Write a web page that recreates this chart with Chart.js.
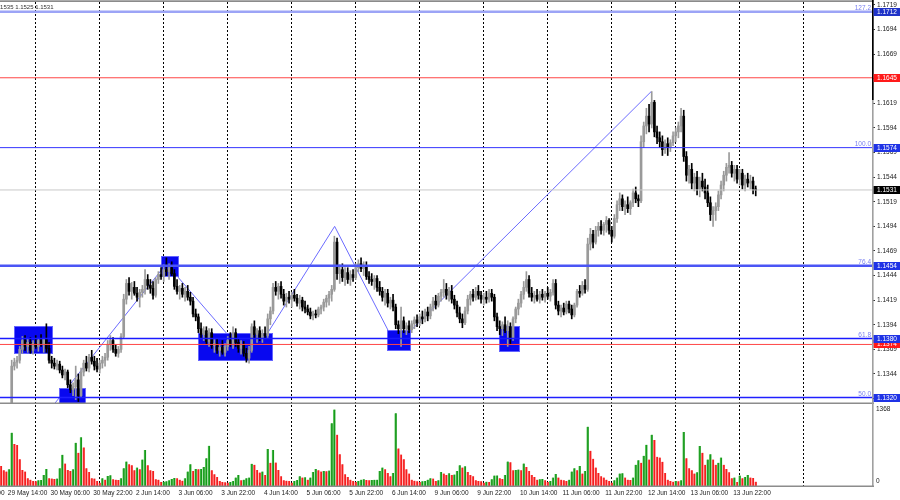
<!DOCTYPE html>
<html><head><meta charset="utf-8">
<script src="https://cdn.jsdelivr.net/npm/chart.js@4.4.1/dist/chart.umd.min.js"></script>
<style>
html,body{margin:0;padding:0;background:#fff;}
#wrap{position:relative;width:900px;height:500px;overflow:hidden;background:#fff;}
canvas{position:absolute;left:0;}
#price{top:0;} #vol{top:404px;}
</style></head><body>
<div id="wrap"><canvas id="price" width="900" height="404"></canvas><canvas id="vol" width="900" height="96"></canvas></div>
<script>
// ---------- DATA (EURUSD H1, bar index 0 = 30 May 01:00, 24 bars per trading day) ----------
const firstBar = -13;
const opens = [
1.1296,1.1292,1.1290,1.1293,1.1288,1.1352,1.1356,1.1358,1.1369,1.1378,
1.1372,1.1376,1.1368,1.1375,1.1372,1.1378,1.1374,1.1379,1.1370,1.1358,
1.1355,1.1352,1.1354,1.1348,1.1343,1.1346,1.1333,1.1328,1.1331,1.1338,
1.1322,1.1346,1.1355,1.1350,1.1361,1.1357,1.1352,1.1349,1.1355,1.1358,
1.1361,1.1374,1.1378,1.1369,1.1365,1.1369,1.1382,1.1420,1.1436,1.1428,
1.1432,1.1426,1.1422,1.1427,1.1430,1.1440,1.1434,1.1431,1.1424,1.1440,
1.1445,1.1443,1.1450,1.1448,1.1452,1.1446,1.1433,1.1428,1.1431,1.1425,
1.1428,1.1422,1.1418,1.1405,1.1402,1.1390,1.1384,1.1388,1.1377,1.1386,
1.1373,1.1375,1.1368,1.1371,1.1366,1.1372,1.1378,1.1375,1.1386,1.1376,
1.1370,1.1374,1.1365,1.1360,1.1368,1.1392,1.1384,1.1388,1.1381,1.1385,
1.1383,1.1400,1.1408,1.1432,1.1428,1.1433,1.1425,1.1418,1.1422,1.1420,
1.1424,1.1421,1.1416,1.1419,1.1412,1.1410,1.1407,1.1403,1.1405,1.1404,
1.1410,1.1412,1.1417,1.1421,1.1425,1.1430,1.1478,1.1446,1.1450,1.1442,
1.1447,1.1440,1.1445,1.1442,1.1452,1.1456,1.1451,1.1454,1.1443,1.1440,
1.1438,1.1441,1.1432,1.1428,1.1422,1.1426,1.1416,1.1419,1.1412,1.1394,
1.1390,1.1398,1.1390,1.1393,1.1389,1.1395,1.1399,1.1396,1.1402,1.1400,
1.1407,1.1403,1.1412,1.1418,1.1414,1.1423,1.1427,1.1430,1.1424,1.1428,
1.1420,1.1414,1.1406,1.1400,1.1396,1.1408,1.1420,1.1425,1.1422,1.1428,
1.1424,1.1420,1.1422,1.1420,1.1426,1.1422,1.1402,1.1392,1.1390,1.1394,
1.1388,1.1392,1.1380,1.1400,1.1410,1.1416,1.1425,1.1432,1.1440,1.1426,
1.1422,1.1424,1.1420,1.1425,1.1422,1.1426,1.1423,1.1427,1.1436,1.1414,
1.1408,1.1411,1.1407,1.1415,1.1410,1.1404,1.1414,1.1428,1.1426,1.1434,
1.1430,1.1476,1.1486,1.1478,1.1490,1.1494,1.1490,1.1496,1.1500,1.1490,
1.1484,1.1502,1.1516,1.1522,1.1514,1.1516,1.1512,1.1518,1.1528,1.1522,
1.1520,1.1580,1.1596,1.1606,1.1598,1.1620,1.1590,1.1584,1.1580,1.1572,
1.1578,1.1574,1.1579,1.1586,1.1590,1.1596,1.1606,1.1565,1.1546,1.1552,
1.1538,1.1544,1.1532,1.1540,1.1534,1.1528,1.1518,1.1506,1.1510,1.1514,
1.1526,1.1536,1.1546,1.1554,1.1556,1.1548,1.1552,1.1542,1.1548,1.1536,
1.1542,1.1538,1.1540,1.1532];
const highs = [
1.1300,1.1298,1.1296,1.1299,1.1358,1.1360,1.1362,1.1372,1.1382,1.1383,
1.1380,1.1381,1.1378,1.1383,1.1380,1.1384,1.1380,1.1395,1.1376,1.1362,
1.1360,1.1358,1.1357,1.1352,1.1349,1.1348,1.1338,1.1335,1.1352,1.1344,
1.1350,1.1358,1.1362,1.1364,1.1368,1.1362,1.1360,1.1358,1.1362,1.1365,
1.1378,1.1383,1.1381,1.1374,1.1372,1.1385,1.1425,1.1440,1.1442,1.1437,
1.1438,1.1432,1.1430,1.1434,1.1450,1.1445,1.1440,1.1438,1.1442,1.1448,
1.1452,1.1455,1.1462,1.1456,1.1458,1.1450,1.1440,1.1434,1.1436,1.1432,
1.1434,1.1427,1.1422,1.1410,1.1405,1.1396,1.1392,1.1392,1.1390,1.1390,
1.1379,1.1380,1.1374,1.1378,1.1375,1.1382,1.1386,1.1392,1.1390,1.1380,
1.1378,1.1377,1.1370,1.1372,1.1395,1.1398,1.1390,1.1392,1.1389,1.1392,
1.1405,1.1412,1.1436,1.1438,1.1436,1.1438,1.1430,1.1426,1.1428,1.1427,
1.1430,1.1425,1.1424,1.1422,1.1418,1.1414,1.1411,1.1408,1.1409,1.1412,
1.1414,1.1420,1.1424,1.1428,1.1434,1.1484,1.1482,1.1455,1.1456,1.1452,
1.1452,1.1449,1.1450,1.1456,1.1460,1.1462,1.1458,1.1458,1.1448,1.1446,
1.1444,1.1444,1.1438,1.1432,1.1430,1.1430,1.1422,1.1425,1.1415,1.1398,
1.1412,1.1402,1.1396,1.1398,1.1398,1.1402,1.1404,1.1405,1.1408,1.1410,
1.1412,1.1415,1.1422,1.1424,1.1426,1.1430,1.1440,1.1436,1.1432,1.1434,
1.1424,1.1418,1.1412,1.1405,1.1412,1.1424,1.1428,1.1430,1.1432,1.1434,
1.1428,1.1426,1.1428,1.1430,1.1430,1.1425,1.1406,1.1398,1.1397,1.1402,
1.1398,1.1396,1.1402,1.1412,1.1420,1.1428,1.1438,1.1448,1.1444,1.1432,
1.1428,1.1430,1.1428,1.1430,1.1428,1.1432,1.1430,1.1440,1.1440,1.1418,
1.1414,1.1416,1.1418,1.1418,1.1414,1.1416,1.1430,1.1434,1.1438,1.1440,
1.1482,1.1492,1.1490,1.1494,1.1498,1.1500,1.1498,1.1504,1.1502,1.1494,
1.1506,1.1520,1.1528,1.1526,1.1520,1.1524,1.1520,1.1532,1.1534,1.1526,
1.1586,1.1600,1.1614,1.1618,1.1631,1.1622,1.1596,1.1590,1.1586,1.1582,
1.1584,1.1582,1.1590,1.1594,1.1600,1.1614,1.1612,1.1570,1.1556,1.1558,
1.1548,1.1550,1.1544,1.1548,1.1542,1.1536,1.1524,1.1514,1.1518,1.1530,
1.1540,1.1550,1.1558,1.1569,1.1560,1.1556,1.1556,1.1552,1.1552,1.1546,
1.1548,1.1546,1.1544,1.1535];
const lows = [
1.1288,1.1287,1.1286,1.1289,1.1285,1.1348,1.1350,1.1355,1.1365,1.1368,
1.1366,1.1365,1.1364,1.1370,1.1367,1.1372,1.1366,1.1366,1.1355,1.1350,
1.1349,1.1348,1.1345,1.1340,1.1338,1.1330,1.1325,1.1322,1.1318,1.1316,
1.1320,1.1342,1.1347,1.1346,1.1354,1.1348,1.1346,1.1345,1.1350,1.1352,
1.1358,1.1368,1.1366,1.1362,1.1361,1.1366,1.1380,1.1415,1.1424,1.1420,
1.1424,1.1418,1.1412,1.1422,1.1425,1.1430,1.1426,1.1420,1.1422,1.1436,
1.1440,1.1438,1.1444,1.1440,1.1444,1.1430,1.1425,1.1420,1.1422,1.1418,
1.1419,1.1414,1.1402,1.1398,1.1386,1.1380,1.1378,1.1374,1.1372,1.1370,
1.1366,1.1365,1.1362,1.1364,1.1362,1.1368,1.1372,1.1370,1.1372,1.1366,
1.1364,1.1362,1.1356,1.1355,1.1366,1.1380,1.1376,1.1378,1.1376,1.1380,
1.1380,1.1394,1.1405,1.1424,1.1420,1.1421,1.1414,1.1412,1.1416,1.1412,
1.1418,1.1413,1.1410,1.1408,1.1406,1.1404,1.1400,1.1399,1.1401,1.1402,
1.1405,1.1408,1.1412,1.1414,1.1418,1.1428,1.1440,1.1436,1.1438,1.1434,
1.1436,1.1434,1.1438,1.1440,1.1448,1.1448,1.1444,1.1440,1.1436,1.1434,
1.1430,1.1428,1.1424,1.1418,1.1414,1.1412,1.1410,1.1408,1.1390,1.1385,
1.1372,1.1386,1.1384,1.1386,1.1386,1.1390,1.1392,1.1393,1.1395,1.1397,
1.1398,1.1400,1.1408,1.1410,1.1412,1.1418,1.1422,1.1420,1.1418,1.1416,
1.1410,1.1402,1.1396,1.1391,1.1394,1.1405,1.1414,1.1418,1.1419,1.1420,
1.1416,1.1414,1.1416,1.1417,1.1418,1.1398,1.1388,1.1384,1.1383,1.1386,
1.1372,1.1374,1.1378,1.1396,1.1404,1.1412,1.1420,1.1428,1.1422,1.1418,
1.1416,1.1418,1.1416,1.1419,1.1417,1.1420,1.1418,1.1424,1.1410,1.1404,
1.1402,1.1404,1.1405,1.1406,1.1400,1.1402,1.1412,1.1422,1.1424,1.1426,
1.1428,1.1470,1.1472,1.1476,1.1484,1.1486,1.1485,1.1488,1.1486,1.1478,
1.1482,1.1498,1.1510,1.1510,1.1506,1.1508,1.1506,1.1514,1.1518,1.1514,
1.1518,1.1574,1.1588,1.1590,1.1594,1.1585,1.1578,1.1574,1.1566,1.1568,
1.1566,1.1570,1.1576,1.1580,1.1584,1.1590,1.1560,1.1540,1.1538,1.1532,
1.1530,1.1526,1.1524,1.1530,1.1522,1.1514,1.1500,1.1494,1.1500,1.1510,
1.1522,1.1530,1.1540,1.1548,1.1544,1.1540,1.1538,1.1536,1.1532,1.1530,
1.1534,1.1532,1.1527,1.1525];
const closes = [
1.1292,1.1290,1.1293,1.1288,1.1352,1.1356,1.1358,1.1369,1.1378,1.1372,
1.1376,1.1368,1.1375,1.1372,1.1378,1.1374,1.1379,1.1370,1.1358,1.1355,
1.1352,1.1354,1.1348,1.1343,1.1346,1.1333,1.1328,1.1331,1.1338,1.1322,
1.1346,1.1355,1.1350,1.1361,1.1357,1.1352,1.1349,1.1355,1.1358,1.1361,
1.1374,1.1378,1.1369,1.1365,1.1369,1.1382,1.1420,1.1436,1.1428,1.1432,
1.1426,1.1422,1.1427,1.1430,1.1440,1.1434,1.1431,1.1424,1.1440,1.1445,
1.1443,1.1450,1.1448,1.1452,1.1446,1.1433,1.1428,1.1431,1.1425,1.1428,
1.1422,1.1418,1.1405,1.1402,1.1390,1.1384,1.1388,1.1377,1.1386,1.1373,
1.1375,1.1368,1.1371,1.1366,1.1372,1.1378,1.1375,1.1386,1.1376,1.1370,
1.1374,1.1365,1.1360,1.1368,1.1392,1.1384,1.1388,1.1381,1.1385,1.1383,
1.1400,1.1408,1.1432,1.1428,1.1433,1.1425,1.1418,1.1422,1.1420,1.1424,
1.1421,1.1416,1.1419,1.1412,1.1410,1.1407,1.1403,1.1405,1.1404,1.1410,
1.1412,1.1417,1.1421,1.1425,1.1430,1.1478,1.1446,1.1450,1.1442,1.1447,
1.1440,1.1445,1.1442,1.1452,1.1456,1.1451,1.1454,1.1443,1.1440,1.1438,
1.1441,1.1432,1.1428,1.1422,1.1426,1.1416,1.1419,1.1412,1.1394,1.1390,
1.1398,1.1390,1.1393,1.1389,1.1395,1.1399,1.1396,1.1402,1.1400,1.1407,
1.1403,1.1412,1.1418,1.1414,1.1423,1.1427,1.1430,1.1424,1.1428,1.1420,
1.1414,1.1406,1.1400,1.1396,1.1408,1.1420,1.1425,1.1422,1.1428,1.1424,
1.1420,1.1422,1.1420,1.1426,1.1422,1.1402,1.1392,1.1390,1.1394,1.1388,
1.1392,1.1380,1.1400,1.1410,1.1416,1.1425,1.1432,1.1440,1.1426,1.1422,
1.1424,1.1420,1.1425,1.1422,1.1426,1.1423,1.1427,1.1436,1.1414,1.1408,
1.1411,1.1407,1.1415,1.1410,1.1404,1.1414,1.1428,1.1426,1.1434,1.1430,
1.1476,1.1486,1.1478,1.1490,1.1494,1.1490,1.1496,1.1500,1.1490,1.1484,
1.1502,1.1516,1.1522,1.1514,1.1516,1.1512,1.1518,1.1528,1.1522,1.1520,
1.1580,1.1596,1.1606,1.1598,1.1620,1.1590,1.1584,1.1580,1.1572,1.1578,
1.1574,1.1579,1.1586,1.1590,1.1596,1.1606,1.1565,1.1546,1.1552,1.1538,
1.1544,1.1532,1.1540,1.1534,1.1528,1.1518,1.1506,1.1510,1.1514,1.1526,
1.1536,1.1546,1.1554,1.1556,1.1548,1.1552,1.1542,1.1548,1.1536,1.1542,
1.1538,1.1540,1.1532,1.1531];
const volumes = [
360,282,258,300,954,750,732,480,288,258,138,114,90,
84,102,108,198,306,138,132,126,132,318,558,402,
288,270,300,774,594,870,690,318,252,138,132,90,
60,138,114,180,192,120,114,108,138,318,438,390,
372,282,330,300,474,642,372,282,270,120,114,72,
78,84,102,126,144,138,114,96,138,258,390,270,
306,300,306,342,498,720,282,210,162,90,72,66,
60,72,90,150,198,102,114,138,150,396,378,288,
240,258,198,660,414,642,420,288,174,102,96,90,
60,90,108,174,150,156,114,150,252,306,282,258,
270,264,276,1122,1368,918,570,390,210,162,114,90,
72,90,114,120,108,102,108,110,114,270,330,300,
234,174,234,1302,672,564,480,300,222,114,96,84,
72,84,90,114,138,132,90,102,252,222,198,228,
198,204,270,372,330,354,252,198,174,102,90,84,
60,78,72,120,186,190,138,126,198,438,426,282,
288,294,282,402,342,270,198,162,114,120,126,102,
72,90,150,216,150,114,102,90,114,258,318,282,
360,222,270,1062,630,486,330,234,174,150,114,90,
60,102,150,222,228,150,114,108,150,378,462,414,
540,738,474,918,822,522,510,432,234,114,90,78,
90,84,102,966,498,318,282,222,246,714,594,378,
474,570,474,378,414,510,378,306,246,138,150,72,
186,138,162,198,150,144,78];

// time axis labels (bar index where each label sits)
const labelBars = [-27,-11,5,21,37,53,69,85,101,117,133,149,165,181,197,213,229,245,261];
const timeLabels = ['28 May 22:00','29 May 14:00','30 May 06:00','30 May 22:00','2 Jun 14:00','3 Jun 06:00',
  '3 Jun 22:00','4 Jun 14:00','5 Jun 06:00','5 Jun 22:00','6 Jun 14:00','9 Jun 06:00','9 Jun 22:00',
  '10 Jun 14:00','11 Jun 06:00','11 Jun 22:00','12 Jun 14:00','13 Jun 06:00','13 Jun 22:00'];
// price axis ticks
const priceTicks = [1.1719,1.1694,1.1669,1.1644,1.1619,1.1594,1.1569,1.1544,1.1519,1.1494,1.1469,1.1444,1.1419,1.1394,1.1369,1.1344,1.1319];
// horizontal levels (price tags on the axis)
const levelPrices = [1.1712,1.1645,1.1574,1.1531,1.1454,1.1374,1.1380,1.1320];
// fibonacci labels
const fibLabels = ['127.2','100.0','76.4','61.8','50.0'];
const fibPrices = [1.1712,1.1574,1.1454,1.1380,1.1320];
// rectangles: from bar, to bar, top price, bottom price
const boxFrom = [-8.1, 8.85, 47.0, 60.9, 131.8, 173.8];
const boxTo   = [ 6.6, 18.9, 53.8, 88.9, 140.8, 181.7];
const boxHigh = [1.1393,1.1330,1.1464,1.1386,1.1389,1.1393];
const boxLow  = [1.1364,1.1300,1.1443,1.1357,1.1367,1.1366];
// zigzag trend lines (null = break)
const zigBars   = [3, 49, 72, 79, 86.6, 112.1, 132.2, 136, 140.6, 230.8];
const zigPrices = [1.1300,1.1456,1.1384,null,1.1384,1.1494,1.1388,null,1.1388,1.1631];
const volumeScaleLabel = 1368;

// ---------- VIEW / STYLE ----------
const VIEW_FIRST = -13.39, VIEW_LAST = 313.6;
const PRICE_MIN = 1.13145, PRICE_MAX = 1.17220;
const VOL_MAX = 1449;
const BARS_PER_DAY = 24, GRID_LAST = 288;
const FONT = '"Liberation Sans", Arial, sans-serif';
const FS = 6.5;
const levelLineColors = ['#9ca4f6','#ff4646','#3535ff','#c8c8c8','#4a55f5','#ff4646','#1a1aff','#2020ff'];
const levelLineWidths = [2.5,1,1,1,2.5,1,1.5,1.5];
const levelTagColors  = ['#1f33c8','#ff1a1a','#1f33e6','#000000','#1f33e6','#ff1a1a','#1f33e6','#1f33e6'];
const BULL = '#9a9a9a', BEAR = '#000000';
const VOL_UP = '#169a1a', VOL_DN = '#f51e1e';
const VOL_UP_EDGE = '#6fcf6f', VOL_DN_EDGE = '#ff8c8c';
const BOX_FILL = '#0808f0', BOX_EDGE = '#6464ff';
const FIB_TEXT = '#7a80f0';

const N = closes.length;
const barIdx = closes.map((_, k) => firstBar + k);
const candleColor = closes.map((c, k) => c >= opens[k] ? BULL : BEAR);
const gridTicks = [];
for (let v = 0; v <= GRID_LAST; v += BARS_PER_DAY) gridTicks.push(v);
const noPad = s => { s.paddingLeft = 0; s.paddingRight = 0; s.paddingTop = 0; s.paddingBottom = 0; };

const xGrid = {
  type: 'linear', min: VIEW_FIRST, max: VIEW_LAST, offset: false, bounds: 'data',
  afterBuildTicks: s => { s.ticks = gridTicks.map(v => ({value: v})); },
  afterFit: s => { s.height = 0; noPad(s); },
  ticks: {display: false},
  grid: {display: true, offset: false, color: '#000000', lineWidth: 1, drawTicks: false, drawOnChartArea: true},
  border: {display: false, dash: [2, 2]}
};

const levelDatasets = levelPrices.map((p, k) => ({
  type: 'line', label: 'level' + k, order: 1,
  data: [{x: VIEW_FIRST - 1, y: p}, {x: VIEW_LAST + 1, y: p}],
  borderColor: levelLineColors[k], borderWidth: levelLineWidths[k],
  pointRadius: 0, tension: 0
}));

const priceDecor = {
  id: 'priceDecor',
  beforeDatasetDraw(chart, args) {
    if (chart.data.datasets[args.index].label !== 'wicks') return;
    const {ctx, chartArea: a, scales: {x, y}} = chart;
    ctx.save();
    ctx.beginPath(); ctx.rect(a.left, a.top, a.right - a.left, a.bottom - a.top); ctx.clip();
    for (let k = 0; k < boxFrom.length; k++) {
      const x0 = Math.round(x.getPixelForValue(boxFrom[k])), x1 = Math.round(x.getPixelForValue(boxTo[k]));
      const y0 = Math.round(y.getPixelForValue(boxHigh[k])), y1 = Math.round(y.getPixelForValue(boxLow[k]));
      ctx.fillStyle = BOX_FILL; ctx.fillRect(x0, y0, x1 - x0, y1 - y0);
      ctx.strokeStyle = BOX_EDGE; ctx.lineWidth = 1; ctx.strokeRect(x0 + 0.5, y0 + 0.5, x1 - x0 - 1, y1 - y0 - 1);
    }
    ctx.restore();
  },
  afterDraw(chart) {
    const {ctx, chartArea: a, scales: {y}} = chart;
    ctx.save();
    ctx.fillStyle = '#5a5a5a'; ctx.fillRect(0, 0.5, 874, 1.2);
    ctx.fillStyle = '#8c8c8c'; ctx.fillRect(0, 402.5, 874, 1.5);
    ctx.fillStyle = '#a0a0a0'; ctx.fillRect(872, 0, 1.6, 404);
    ctx.fillStyle = '#000000'; ctx.fillRect(872, 0, 1.6, 100);
    ctx.font = FS + 'px ' + FONT;
    ctx.textAlign = 'right'; ctx.textBaseline = 'alphabetic'; ctx.fillStyle = FIB_TEXT;
    fibPrices.forEach((p, k) => ctx.fillText(fibLabels[k], a.right - 1, y.getPixelForValue(p) - 2));
    ctx.textAlign = 'left'; ctx.textBaseline = 'middle';
    levelPrices.forEach((p, k) => {
      const py = Math.round(y.getPixelForValue(p));
      ctx.fillStyle = levelTagColors[k]; ctx.fillRect(873.6, py - 4, 26.4, 8);
      ctx.fillStyle = '#ffffff'; ctx.fillText(p.toFixed(4), 877, py + 0.5);
    });
    const ohlc = [highs[N - 1], lows[N - 1], closes[N - 1]].map(v => v.toFixed(4)).join(' ');
    ctx.font = '6px ' + FONT;
    ctx.fillStyle = '#333333'; ctx.textAlign = 'right'; ctx.fillText(ohlc, 53.5, 7.5);
    ctx.restore();
  }
};

new Chart(document.getElementById('price'), {
  type: 'line',
  data: {
    datasets: [
      { type: 'line', label: 'zigzag', order: 10,
        data: zigBars.map((b, k) => ({x: b, y: zigPrices[k]})),
        borderColor: '#6b6bff', borderWidth: 1, pointRadius: 0, tension: 0, spanGaps: false },
      { type: 'bar', label: 'wicks', order: 4, grouped: false, clip: 0,
        data: barIdx.map((b, k) => ({x: b, y: [lows[k], highs[k]]})),
        backgroundColor: candleColor, barThickness: 1, borderWidth: 0 },
      { type: 'bar', label: 'bodies', order: 3, grouped: false, clip: 0, minBarLength: 1,
        data: barIdx.map((b, k) => ({x: b, y: [opens[k], closes[k]]})),
        backgroundColor: candleColor, barThickness: 2, borderWidth: 0 },
      ...levelDatasets
    ]
  },
  options: {
    responsive: false, maintainAspectRatio: false, animation: false, devicePixelRatio: 1, events: [],
    layout: {padding: {top: 2, bottom: 1, left: 0, right: 0}},
    plugins: {legend: {display: false}, tooltip: {enabled: false}},
    scales: {
      x: xGrid,
      y: {
        type: 'linear', position: 'right', min: PRICE_MIN, max: PRICE_MAX, bounds: 'data',
        afterBuildTicks: s => { s.ticks = priceTicks.map(v => ({value: v})); },
        afterFit: s => { s.width = 28; noPad(s); },
        ticks: {font: {family: FONT, size: FS}, color: '#222222', padding: 2, callback: v => Number(v).toFixed(4)},
        grid: {drawOnChartArea: false, drawTicks: true, tickLength: 3, tickColor: '#333333'},
        border: {display: false}
      }
    }
  },
  plugins: [priceDecor]
});

const volUp = volumes.map((v, k) => k > 0 && v > volumes[k - 1]);
const volDecor = {
  id: 'volDecor',
  afterDraw(chart) {
    const {ctx, scales: {y}} = chart;
    ctx.save();
    ctx.fillStyle = '#a0a0a0'; ctx.fillRect(872, 0, 1.6, 83);
    ctx.fillStyle = '#8c8c8c'; ctx.fillRect(0, 81.5, 874, 1.5);
    ctx.font = FS + 'px ' + FONT; ctx.fillStyle = '#222222'; ctx.textAlign = 'left'; ctx.textBaseline = 'middle';
    ctx.fillText(String(volumeScaleLabel), 876, y.getPixelForValue(volumeScaleLabel));
    ctx.fillText('0', 876, y.getPixelForValue(0) - 5);
    ctx.restore();
  }
};

new Chart(document.getElementById('vol'), {
  type: 'line',
  data: {
    datasets: [{
      type: 'bar', label: 'volume', grouped: false, clip: 0,
      data: barIdx.map((b, k) => ({x: b, y: volumes[k]})),
      backgroundColor: volUp.map(u => u ? VOL_UP : VOL_DN),
      borderColor: volUp.map(u => u ? VOL_UP_EDGE : VOL_DN_EDGE),
      borderWidth: {left: 0.8, right: 0, top: 0, bottom: 0}, borderSkipped: false,
      barThickness: 2.2
    }]
  },
  options: {
    responsive: false, maintainAspectRatio: false, animation: false, devicePixelRatio: 1, events: [],
    layout: {padding: {top: 1, bottom: 0, left: 0, right: 0}},
    plugins: {legend: {display: false}, tooltip: {enabled: false}},
    scales: {
      x: xGrid,
      xl: {
        type: 'linear', axis: 'x', position: 'bottom', min: VIEW_FIRST, max: VIEW_LAST, bounds: 'data', offset: false,
        afterBuildTicks: s => { s.ticks = labelBars.map(v => ({value: v})); },
        afterFit: s => { s.height = 14; noPad(s); },
        ticks: {autoSkip: false, maxRotation: 0, minRotation: 0, align: 'start', labelOffset: 1.5, padding: 3,
          font: {family: FONT, size: FS}, color: '#222222',
          callback: v => { const k = labelBars.indexOf(v); return k >= 0 ? timeLabels[k] : ''; }},
        grid: {display: false, drawTicks: false},
        border: {display: false}
      },
      y: {
        type: 'linear', position: 'right', min: 0, max: VOL_MAX, bounds: 'data',
        afterFit: s => { s.width = 28; noPad(s); },
        ticks: {display: false}, grid: {display: false, drawTicks: false}, border: {display: false}
      }
    }
  },
  plugins: [volDecor]
});
</script>
</body></html>
